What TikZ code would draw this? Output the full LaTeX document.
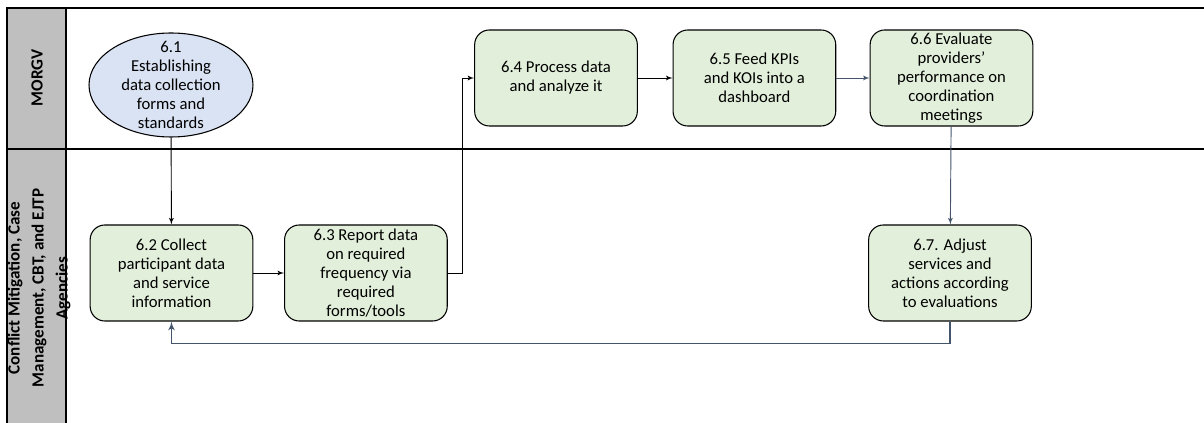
\documentclass[tikz,border=0pt]{standalone}
\usepackage{fontspec}
\setmainfont{Carlito}
\usetikzlibrary{shapes, arrows, positioning}

\definecolor{boxgreen}{HTML}{E2EFDA}
\definecolor{ovalblue}{HTML}{DAE3F3}
\definecolor{lanegrey}{HTML}{BFBFBF}
\definecolor{slate}{HTML}{44546A}

\begin{document}
\begin{tikzpicture}[x=0.75pt, y=-0.75pt, font=\fontsize{12.5pt}{14.3pt}\selectfont,
		stepbox/.style={draw, line width=0.8pt, rectangle, rounded corners=11pt, fill=boxgreen, align=center, minimum width=122pt, minimum height=72pt, inner sep=2pt},
		lanehead/.style={rotate=90, align=center, font=\bfseries\fontsize{12.8pt}{18pt}\selectfont}]
		\useasboundingbox (0,0) rectangle (1204,423);
		% swimlanes
		\fill[lanegrey] (7,8) rectangle (66,423);
		\draw[line width=1.5pt] (1204,8) -- (7,8) -- (7,423);
		\draw[line width=1.5pt] (66,8) -- (66,423);
		\draw[line width=1.5pt] (7,149) -- (1204,149);
		\node[lanehead] (lane-morgv) at (37,78) {MORGV};
		\node[lanehead] (lane-agencies) at (39,288) {Conflict Mitigation, Case\\Management, CBT, and EJTP\\Agencies};
		% steps
		\node[draw, line width=0.8pt, ellipse, fill=ovalblue, minimum width=123pt, minimum height=78pt] (establish) at (171,85) {};
		\node[align=center] (establish-text) at (establish) {6.1\\Establishing\\data collection\\forms and\\standards};
		\node[stepbox] (collect) at (171.5,273) {6.2 Collect\\participant data\\and service\\information};
		\node[stepbox, right = 23pt of collect] (report) {6.3 Report data\\on required\\frequency via\\required\\forms/tools};
		\node[stepbox] (process) at (556,78) {6.4 Process data\\and analyze it};
		\node[stepbox, right = 26pt of process] (feed) {6.5 Feed KPIs\\and KOIs into a\\dashboard};
		\node[stepbox, right = 25pt of feed] (evaluate) {6.6 Evaluate\\providers’\\performance on\\coordination\\meetings};
		\node[stepbox] (adjust) at (950,273) {6.7. Adjust\\services and\\actions according\\to evaluations};
		% connectors
		\path [draw, -latex', line width=0.7pt] (establish) -- (collect);
		\path [draw, -latex', line width=0.7pt] (collect) -- (report);
		\path [draw, -latex', line width=0.7pt] (report.east) -- ++(15,0) |- (process.west);
		\path [draw, -latex', line width=0.7pt] (process) -- (feed);
		\path [draw, -latex', line width=0.7pt, slate] (feed) -- (evaluate);
		\path [draw, -latex', line width=0.7pt, slate] (evaluate) -- (adjust);
		\path [draw, -latex', slate, line width=1.3pt] (adjust.south) -- ++(0,22) -| (collect.south);
	\end{tikzpicture}
\end{document}
